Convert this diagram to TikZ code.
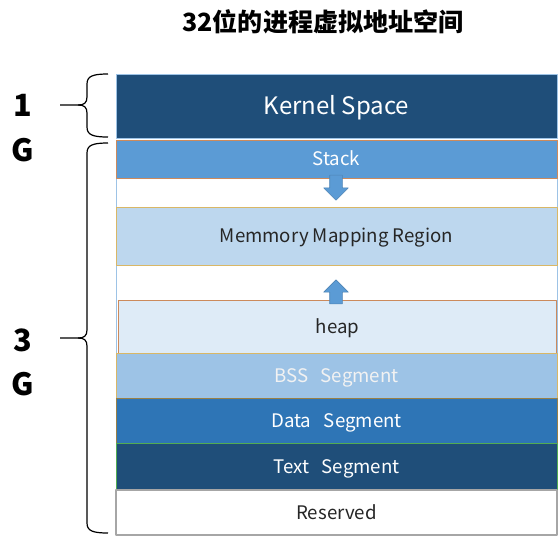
\documentclass[tikz,border=0pt]{standalone}
\usepackage{fontspec}
\setmainfont{Noto Sans CJK SC}
\usetikzlibrary{shapes.arrows}

\definecolor{kernelblue}{HTML}{1F4E79}
\definecolor{stackblue}{HTML}{5B9BD5}
\definecolor{mmapblue}{HTML}{BDD7EE}
\definecolor{heapblue}{HTML}{DEEBF7}
\definecolor{bssblue}{HTML}{9DC3E6}
\definecolor{datablue}{HTML}{2E75B6}
\definecolor{goldline}{HTML}{D9B766}
\definecolor{rustline}{HTML}{CC8A5C}
\definecolor{greyline}{HTML}{A6A6A6}

% one brace with its tip line: top, bottom, tip height
\newcommand{\gbrace}[3]{%
  \draw[gbracestyle] (108,#1) .. controls (93,#1) and (87,{#1+2}) .. (87,{#1+10})
    -- (87,{#3-8}) .. controls (87,{#3-2}) and (84,#3) .. (78,#3) -- (60,#3);
  \draw[gbracestyle] (78,#3) .. controls (84,#3) and (87,{#3+2}) .. (87,{#3+8})
    -- (87,{#2-10}) .. controls (87,{#2-2}) and (93,#2) .. (108,#2);}

\begin{document}
\begin{tikzpicture}[x=0.75pt,y=-0.75pt,line join=round,
    seg/.style={rectangle,inner sep=0pt,outer sep=0pt,minimum width=330.75pt,
      line width=0.6pt,font=\fontsize{14}{16}\selectfont,text height=10.2pt,text depth=0pt},
    gbracestyle/.style={line width=0.9pt,black},
    growarrow/.style={single arrow,draw=stackblue!85!black,fill=stackblue,line width=0.4pt,
      inner sep=4.5pt,single arrow head extend=4.5pt,minimum width=18pt,
      text height=0pt,text depth=0pt},
    sizelabel/.style={font=\bfseries\fontsize{23}{25}\selectfont}]
  \useasboundingbox (0,0) rectangle (558,537);

  \node[font=\bfseries\fontsize{18.8}{20}\selectfont] (title) at (323,22) {32位的进程虚拟地址空间};

  % user part outline (white gaps)
  \draw[bssblue,line width=0.6pt] (116,140) rectangle (557,490);

  \node[seg,fill=kernelblue,draw=bssblue,minimum height=48pt,text=white,
    font=\fontsize{18}{20}\selectfont,text height=13pt] (kernel) at (336.5,106) {Kernel Space};
  \node[seg,fill=stackblue,draw=rustline,minimum height=28.5pt,text=white] (stack) at (336.5,159) {Stack};
  \node[seg,fill=mmapblue,draw=goldline,minimum height=43.5pt,text=black!85] (mmap) at (336.5,236) {Memmory Mapping Region};
  \node[seg,fill=heapblue,draw=rustline,minimum height=39.75pt,minimum width=329pt,text=black!85] (heap) at (337.5,326.5) {heap};
  \node[seg,fill=bssblue,draw=goldline,minimum height=33.75pt,text=white!95!black] (bss) at (336.5,375.5) {BSS\ \ \ Segment};
  \node[seg,fill=datablue,draw=goldline!70!black,minimum height=33.75pt,text=white] (data) at (336.5,420.5) {Data\ \ \ Segment};
  \node[seg,fill=kernelblue,draw=green!35!gray,minimum height=35.25pt,text=white] (text) at (336.5,466.5) {Text\ \ \ Segment};
  \node[seg,fill=white,draw=greyline,line width=0.9pt,minimum height=33.75pt,text=black!85] (reserved) at (336.5,512.5) {Reserved};

  % stack grows down, heap grows up
  \node[growarrow,rotate=-90,minimum height=18.75pt] (down) at (336,184.5) {};
  \node[growarrow,rotate=90,minimum height=18pt] (up) at (336,295) {};

  \gbrace{74}{137}{105}
  \gbrace{143}{533}{338}

  \node[sizelabel] (one) at (23,105) {1};
  \node[sizelabel] (gone) at (23,150) {G};
  \node[sizelabel] (three) at (23,340) {3};
  \node[sizelabel] (gthree) at (23,384) {G};
\end{tikzpicture}
\end{document}
